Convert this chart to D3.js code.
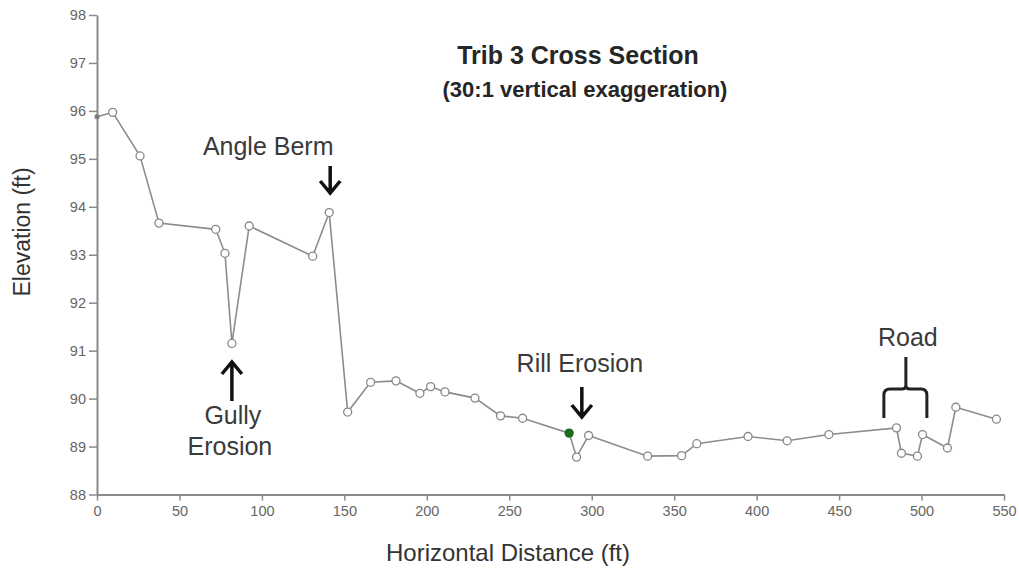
<!DOCTYPE html>
<html>
<head>
<meta charset="utf-8">
<script src="https://cdn.jsdelivr.net/npm/d3@7"></script>
<style>
  html, body { margin: 0; padding: 0; background: #fff; }
  svg { display: block; font-family: "Liberation Sans", Arial, sans-serif; }
</style>
</head>
<body>
<svg id="chart" width="1019" height="571"></svg>
<script>
// ---- data ----
const distance = [0, 9.5, 26.1, 37.6, 72, 77.6, 81.8, 92.3, 130.8, 140.8, 152, 165.9, 181.3, 195.8, 202.3, 211, 229.2, 244.7, 258.1, 286.3, 290.8, 298.1, 333.9, 354.5, 363.7, 394.8, 418.5, 443.8, 484.8, 487.8, 497.5, 500.6, 515.7, 520.8, 545.4];
const elevation = [95.88, 95.97, 95.06, 93.66, 93.53, 93.03, 91.15, 93.6, 92.97, 93.88, 89.72, 90.34, 90.37, 90.11, 90.25, 90.14, 90.01, 89.64, 89.59, 89.28, 88.78, 89.23, 88.8, 88.81, 89.06, 89.21, 89.12, 89.25, 89.39, 88.86, 88.8, 89.25, 88.97, 89.82, 89.57];
const highlightIndex = [19];
const xTicks = [0, 50, 100, 150, 200, 250, 300, 350, 400, 450, 500, 550];
const yTicks = [88, 89, 90, 91, 92, 93, 94, 95, 96, 97, 98];
const titleText = "Trib 3 Cross Section";
const subtitleText = "(30:1 vertical exaggeration)";
const xTitle = "Horizontal Distance (ft)";
const yTitle = "Elevation (ft)";
// annotations anchored at distances along the profile
const annoLabels = ["Angle Berm", "Gully|Erosion", "Rill Erosion", "Road"];
const annoDistance = [140.8, 81.8, 294, 490.5];

// ---- drawing ----
const svg = d3.select("#chart");
const x = d3.scaleLinear().domain([0, 550]).range([97, 1004]);
const y = d3.scaleLinear().domain([88, 98]).range([494.5, 15]);

const axisColor = "#8a8a8a";
const tickTextColor = "#666";

// axes
const gx = svg.append("g").attr("transform", `translate(0,${y(88)})`)
  .call(d3.axisBottom(x).tickValues(xTicks).tickSize(6).tickSizeOuter(0).tickPadding(5).tickFormat(d3.format("d")));
const gy = svg.append("g").attr("transform", `translate(${x(0)},0)`)
  .call(d3.axisLeft(y).tickValues(yTicks).tickSize(8).tickSizeOuter(0).tickPadding(3).tickFormat(d3.format("d")));
[gx, gy].forEach(g => {
  g.select(".domain").attr("stroke", axisColor).attr("stroke-width", 2);
  g.selectAll(".tick line").attr("stroke", axisColor).attr("stroke-width", 1.5);
  g.selectAll(".tick text").attr("fill", tickTextColor).attr("font-size", 14.5)
    .attr("font-family", "'Liberation Sans', Arial, sans-serif");
});

// profile line
const pts = distance.map((d, i) => ({ x: d, y: elevation[i], i }));
svg.append("path")
  .datum(pts)
  .attr("fill", "none")
  .attr("stroke", "#8c8c8c")
  .attr("stroke-width", 1.6)
  .attr("d", d3.line().x(d => x(d.x)).y(d => y(d.y)));

svg.append("g").selectAll("circle")
  .data(pts)
  .join("circle")
  .attr("cx", d => x(d.x))
  .attr("cy", d => y(d.y))
  .attr("r", d => d.i === 0 ? 2 : 4)
  .attr("fill", d => highlightIndex.includes(d.i) ? "#1d6b1d" : (d.i === 0 ? "#777" : "#fff"))
  .attr("stroke", d => highlightIndex.includes(d.i) ? "#1d6b1d" : "#888")
  .attr("stroke-width", 1.3);

// titles
svg.append("text").attr("x", 578).attr("y", 64).attr("text-anchor", "middle")
  .attr("font-weight", "bold").attr("font-size", 25).attr("fill", "#262626").text(titleText);
svg.append("text").attr("x", 585).attr("y", 97).attr("text-anchor", "middle")
  .attr("font-weight", "bold").attr("font-size", 22).attr("fill", "#262626").text(subtitleText);

svg.append("text").attr("x", 508).attr("y", 561).attr("text-anchor", "middle")
  .attr("font-size", 24).attr("fill", "#333").text(xTitle);
svg.append("text").attr("transform", "translate(30,232) rotate(-90)").attr("text-anchor", "middle")
  .attr("font-size", 23).attr("fill", "#333").text(yTitle);

// annotations
const annoFont = 25, annoColor = "#3a3a3a";
const arrowStroke = "#111";
function downArrow(cx, top, bottom) {
  svg.append("path")
    .attr("d", `M${cx},${top} L${cx},${bottom} M${cx - 10},${bottom - 12} L${cx},${bottom} L${cx + 10},${bottom - 12}`)
    .attr("fill", "none").attr("stroke", arrowStroke).attr("stroke-width", 3.5)
    .attr("stroke-linejoin", "miter");
}
function upArrow(cx, top, bottom) {
  svg.append("path")
    .attr("d", `M${cx},${bottom} L${cx},${top} M${cx - 10},${top + 12} L${cx},${top} L${cx + 10},${top + 12}`)
    .attr("fill", "none").attr("stroke", arrowStroke).attr("stroke-width", 3.5)
    .attr("stroke-linejoin", "miter");
}

// Angle Berm
{
  const ax = x(annoDistance[0]);
  svg.append("text").attr("x", ax - 61).attr("y", 155).attr("text-anchor", "middle")
    .attr("font-size", annoFont).attr("fill", annoColor).text(annoLabels[0]);
  downArrow(ax + 1, 166, 193);
}
// Gully Erosion
{
  const ax = x(annoDistance[1]);
  const lines = annoLabels[1].split("|");
  upArrow(ax, 362, 401);
  svg.append("text").attr("x", ax + 1).attr("y", 424).attr("text-anchor", "middle")
    .attr("font-size", annoFont).attr("fill", annoColor).text(lines[0]);
  svg.append("text").attr("x", ax - 2).attr("y", 455).attr("text-anchor", "middle")
    .attr("font-size", annoFont).attr("fill", annoColor).text(lines[1]);
}
// Rill Erosion
{
  const ax = x(annoDistance[2]);
  svg.append("text").attr("x", ax - 2).attr("y", 372).attr("text-anchor", "middle")
    .attr("font-size", annoFont).attr("fill", annoColor).text(annoLabels[2]);
  downArrow(ax, 387, 417);
}
// Road bracket
{
  const ax = x(annoDistance[3]);
  svg.append("text").attr("x", ax + 2).attr("y", 346).attr("text-anchor", "middle")
    .attr("font-size", annoFont).attr("fill", annoColor).text(annoLabels[3]);
  const L = ax - 22, R = ax + 21, yb = 389, r = 6;
  svg.append("path")
    .attr("d", `M${ax},357 L${ax},${yb - 4} Q${ax},${yb} ${ax - 4},${yb} L${L + r},${yb} Q${L},${yb} ${L},${yb + r} L${L},418
                M${ax},${yb - 4} Q${ax},${yb} ${ax + 4},${yb} L${R - r},${yb} Q${R},${yb} ${R},${yb + r} L${R},418`)
    .attr("fill", "none").attr("stroke", "#222").attr("stroke-width", 3);
}
</script>
</body>
</html>
